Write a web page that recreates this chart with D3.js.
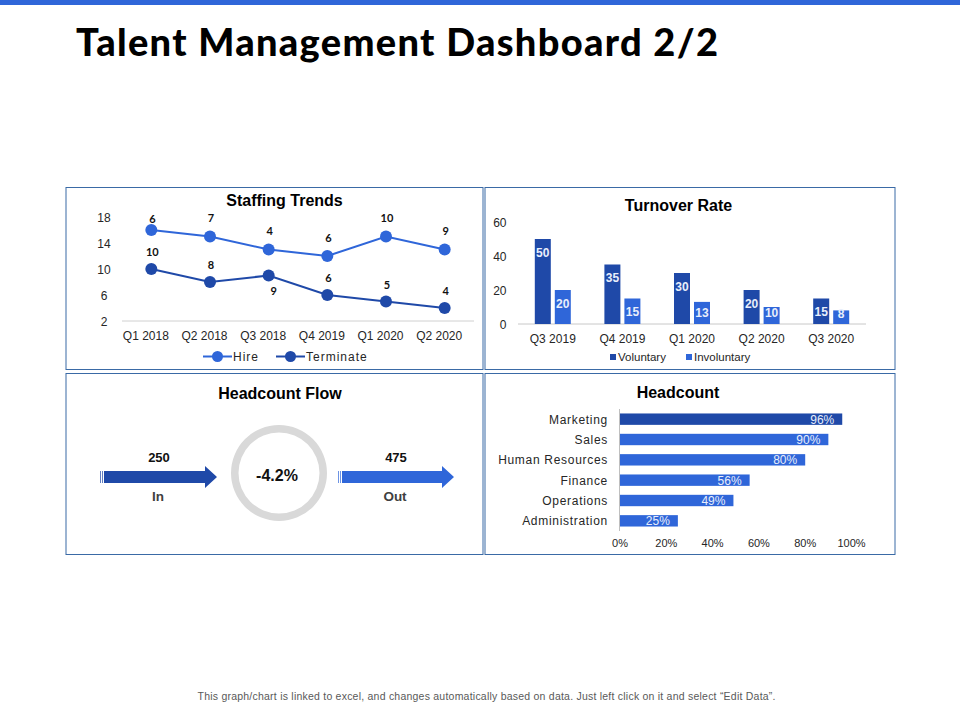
<!DOCTYPE html>
<html lang="en">
<head>
<meta charset="utf-8">
<title>Talent Management Dashboard 2/2</title>
<script src="https://d3js.org/d3.v7.min.js"></script>
<style>
  html, body { margin: 0; padding: 0; background: #fff; }
  svg { display: block; }
  text { font-family: "Liberation Sans", Arial, sans-serif; }
  .chart-title { font-weight: bold; font-size: 16px; fill: #000; text-anchor: middle; }
  .tick-label { font-size: 12px; fill: #262626; }
  .legend-label { font-size: 12px; fill: #262626; }
</style>
</head>
<body>
<svg id="vis" width="960" height="720"></svg>
<script>
// Staffing trends
var staffing_quarters = ["Q1 2018", "Q2 2018", "Q3 2018", "Q4 2019", "Q1 2020", "Q2 2020"];
var hire_values = [16, 15, 13, 12, 15, 13];
var hire_labels = [6, 7, 4, 6, 10, 9];
var terminate_values = [10, 8, 9, 6, 5, 4];
var terminate_labels = [10, 8, 9, 6, 5, 4];
var staffing_ticks = [2, 6, 10, 14, 18];

// Turnover rate
var turnover_quarters = ["Q3 2019", "Q4 2019", "Q1 2020", "Q2 2020", "Q3 2020"];
var voluntary_values = [50, 35, 30, 20, 15];
var involuntary_values = [20, 15, 13, 10, 8];
var turnover_ticks = [0, 20, 40, 60];

// Headcount flow
var flow_in = 250;
var flow_out = 475;
var flow_change = "-4.2%";

// Headcount
var departments = ["Marketing", "Sales", "Human Resources", "Finance", "Operations", "Administration"];
var department_values = [96, 90, 80, 56, 49, 25];
var headcount_ticks = [0, 20, 40, 60, 80, 100];

var dark_blue = "#1f49a8";
var light_blue = "#2f66d9";
var border_blue = "#3a6aa6";

var svg = d3.select("#vis");

svg.append("rect").attr("x", 0).attr("y", 0).attr("width", 960).attr("height", 5).attr("fill", light_blue);

svg.append("text")
    .attr("x", 76).attr("y", 56)
    .attr("font-size", 38).attr("font-weight", 900).attr("fill", "#000")
    .attr("textLength", 642)
    .style("font-family", "Lato, sans-serif")
    .text("Talent Management Dashboard 2/2");

svg.append("text")
    .attr("x", 486.5).attr("y", 700)
    .attr("text-anchor", "middle").attr("font-size", 10.5).attr("fill", "#595959")
    .attr("textLength", 578)
    .text("This graph/chart is linked to excel, and changes automatically based on data. Just left click on it and select \u201cEdit Data\u201d.");

// Panel borders
[[66, 187, 417, 182], [485, 187, 410, 182], [66, 373, 417, 181], [485, 373, 410, 181]].forEach(function(p) {
    svg.append("rect")
        .attr("x", p[0]).attr("y", p[1] + 0.5).attr("width", p[2]).attr("height", p[3])
        .attr("fill", "#fff").attr("stroke", border_blue).attr("stroke-width", 1);
});

function chart_title(text, x, y) {
    svg.append("text").attr("class", "chart-title").attr("x", x).attr("y", y).text(text);
}

// Staffing trends
chart_title("Staffing Trends", 284.5, 206);
var staff_x = d3.scaleBand().domain(staffing_quarters).range([122, 474]);
var staff_y = d3.scaleLinear().domain([2, 18]).range([321, 217]);
var staff_cx = function(i) { return staff_x(staffing_quarters[i]) + staff_x.bandwidth() / 2; };

svg.append("line").attr("x1", 122).attr("x2", 474).attr("y1", staff_y(2)).attr("y2", staff_y(2))
    .attr("stroke", "#d0d0d0");

svg.selectAll(".staff-y").data(staffing_ticks).enter().append("text")
    .attr("class", "tick-label").attr("x", 104).attr("y", function(d) { return staff_y(d) + 5; })
    .attr("text-anchor", "middle").text(function(d) { return d; });

svg.selectAll(".staff-x").data(staffing_quarters).enter().append("text")
    .attr("class", "tick-label").attr("x", function(d) { return staff_x(d) + staff_x.bandwidth() / 2 - 5.5; })
    .attr("y", 340).attr("text-anchor", "middle").text(function(d) { return d; });

function draw_staff_series(values, labels, colour, label_dy) {
    var line = d3.line().x(function(d, i) { return staff_cx(i); }).y(function(d) { return staff_y(d); });
    svg.append("path").attr("d", line(values)).attr("fill", "none").attr("stroke", colour).attr("stroke-width", 2);
    values.forEach(function(v, i) {
        svg.append("circle").attr("cx", staff_cx(i)).attr("cy", staff_y(v)).attr("r", 6).attr("fill", colour);
        svg.append("text")
            .attr("x", staff_cx(i) + (label_dy(i) > 0 ? 5 : 1))
            .attr("y", staff_y(v) + label_dy(i))
            .attr("text-anchor", "middle").attr("font-size", 11).attr("font-weight", "bold").attr("fill", "#111")
            .style("font-family", "Lato, sans-serif")
            .text(labels[i]);
    });
}
// first hire label sits closer to its point, the third terminate label is below
draw_staff_series(hire_values, hire_labels, light_blue, function(i) { return i == 0 ? -7 : -14.5; });
draw_staff_series(terminate_values, terminate_labels, dark_blue, function(i) { return i == 2 ? 19.5 : -13; });

// Staffing legend
[[203, 232, "Hire", light_blue], [276, 305, "Terminate", dark_blue]].forEach(function(l) {
    svg.append("line").attr("x1", l[0]).attr("x2", l[1]).attr("y1", 356.5).attr("y2", 356.5)
        .attr("stroke", l[3]).attr("stroke-width", 2);
    svg.append("circle").attr("cx", (l[0] + l[1]) / 2).attr("cy", 356.5).attr("r", 5.5).attr("fill", l[3]);
    svg.append("text").attr("class", "legend-label").attr("x", l[1] + 1).attr("y", 361)
        .attr("letter-spacing", 1).text(l[2]);
});

// Turnover rate
chart_title("Turnover Rate", 678.5, 211);
var turn_x = d3.scaleBand().domain(turnover_quarters).range([518, 866]);
var turn_y = d3.scaleLinear().domain([0, 60]).range([324, 222]);
var bar_w = 16;
var bar_gap = 4;

svg.append("line").attr("x1", 518).attr("x2", 866).attr("y1", turn_y(0)).attr("y2", turn_y(0))
    .attr("stroke", "#c8c8c8");

svg.selectAll(".turn-y").data(turnover_ticks).enter().append("text")
    .attr("class", "tick-label").attr("x", 506.5).attr("y", function(d) { return turn_y(d) + 4.5; })
    .attr("text-anchor", "end").text(function(d) { return d; });

svg.selectAll(".turn-x").data(turnover_quarters).enter().append("text")
    .attr("class", "tick-label").attr("x", function(d) { return turn_x(d) + turn_x.bandwidth() / 2; })
    .attr("y", 343).attr("text-anchor", "middle").text(function(d) { return d; });

function draw_turn_series(values, colour, offset) {
    values.forEach(function(v, i) {
        var x = turn_x(turnover_quarters[i]) + turn_x.bandwidth() / 2 + offset;
        svg.append("rect").attr("x", x).attr("y", turn_y(v)).attr("width", bar_w)
            .attr("height", turn_y(0) - turn_y(v)).attr("fill", colour);
        svg.append("text").attr("x", x + bar_w / 2)
            .attr("y", v < 10 ? turn_y(v) + 8 : Math.min(turn_y(v) + 17.5, 316.5))
            .attr("text-anchor", "middle").attr("font-size", 12).attr("font-weight", "bold").attr("fill", "#e8eefb")
            .text(v);
    });
}
draw_turn_series(voluntary_values, dark_blue, -bar_w - bar_gap / 2);
draw_turn_series(involuntary_values, light_blue, bar_gap / 2);

[[610, "Voluntary", dark_blue], [686, "Involuntary", light_blue]].forEach(function(l) {
    svg.append("rect").attr("x", l[0]).attr("y", 354).attr("width", 6).attr("height", 6).attr("fill", l[2]);
    svg.append("text").attr("class", "legend-label").attr("x", l[0] + 8).attr("y", 361)
        .style("font-size", "11.5px").text(l[1]);
});

// Headcount flow
chart_title("Headcount Flow", 280, 399);

function draw_arrow(x0, x1, colour) {
    var y = 477, half = 6, head = 12, head_half = 11;
    svg.append("path")
        .attr("d", "M" + (x0 + 4) + "," + (y - half) + "L" + (x1 - head) + "," + (y - half) +
            "L" + (x1 - head) + "," + (y - head_half) + "L" + x1 + "," + y + "L" + (x1 - head) + "," + (y + head_half) +
            "L" + (x1 - head) + "," + (y + half) + "L" + (x0 + 4) + "," + (y + half) + "Z")
        .attr("fill", colour);
    [0, 2].forEach(function(dx) {
        svg.append("rect").attr("x", x0 + dx).attr("y", y - half).attr("width", 1).attr("height", half * 2)
            .attr("fill", colour).attr("opacity", 0.7);
    });
}
draw_arrow(100, 217, dark_blue);
draw_arrow(338, 454, light_blue);

svg.append("path")
    .attr("transform", "translate(279,473)")
    .attr("d", d3.arc().innerRadius(40.5).outerRadius(48).startAngle(0).endAngle(2 * Math.PI)())
    .attr("fill", "#d9d9d9");
svg.append("text").attr("x", 277).attr("y", 481).attr("text-anchor", "middle")
    .attr("font-size", 16).attr("font-weight", "bold").attr("fill", "#111").text(flow_change);

[[159, flow_in, "In"], [396, flow_out, "Out"]].forEach(function(f) {
    svg.append("text").attr("x", f[0]).attr("y", 462).attr("text-anchor", "middle")
        .attr("font-size", 13).attr("font-weight", "bold").attr("fill", "#111").text(f[1]);
    svg.append("text").attr("x", f[0] - 1).attr("y", 500.5).attr("text-anchor", "middle")
        .attr("font-size", 13.5).attr("font-weight", "bold").attr("fill", "#404040").text(f[2]);
});

// Headcount
chart_title("Headcount", 678, 398);
var head_x = d3.scaleLinear().domain([0, 100]).range([620, 851.5]);
var head_y = d3.scaleBand().domain(departments).range([409, 531]).paddingInner(0.44).paddingOuter(0.22);

departments.forEach(function(dep, i) {
    var v = department_values[i];
    svg.append("rect").attr("x", head_x(0)).attr("y", head_y(dep)).attr("width", head_x(v) - head_x(0))
        .attr("height", head_y.bandwidth()).attr("fill", i == 0 ? dark_blue : light_blue);
    svg.append("text").attr("x", head_x(v) - 8).attr("y", head_y(dep) + head_y.bandwidth() / 2 + 4.5)
        .attr("text-anchor", "end").attr("font-size", 12).attr("fill", "#e8eefb").text(v + "%");
    svg.append("text").attr("class", "tick-label").attr("x", 608).attr("y", head_y(dep) + head_y.bandwidth() / 2 + 4.5)
        .attr("text-anchor", "end").attr("letter-spacing", 0.7).text(dep);
});

svg.append("line").attr("x1", 619.5).attr("x2", 619.5).attr("y1", 409).attr("y2", 531).attr("stroke", "#bfbfbf");

svg.selectAll(".head-x").data(headcount_ticks).enter().append("text")
    .attr("x", function(d) { return head_x(d); }).attr("y", 547)
    .attr("text-anchor", "middle").attr("font-size", 11).attr("fill", "#262626")
    .text(function(d) { return d + "%"; });
</script>
</body>
</html>
